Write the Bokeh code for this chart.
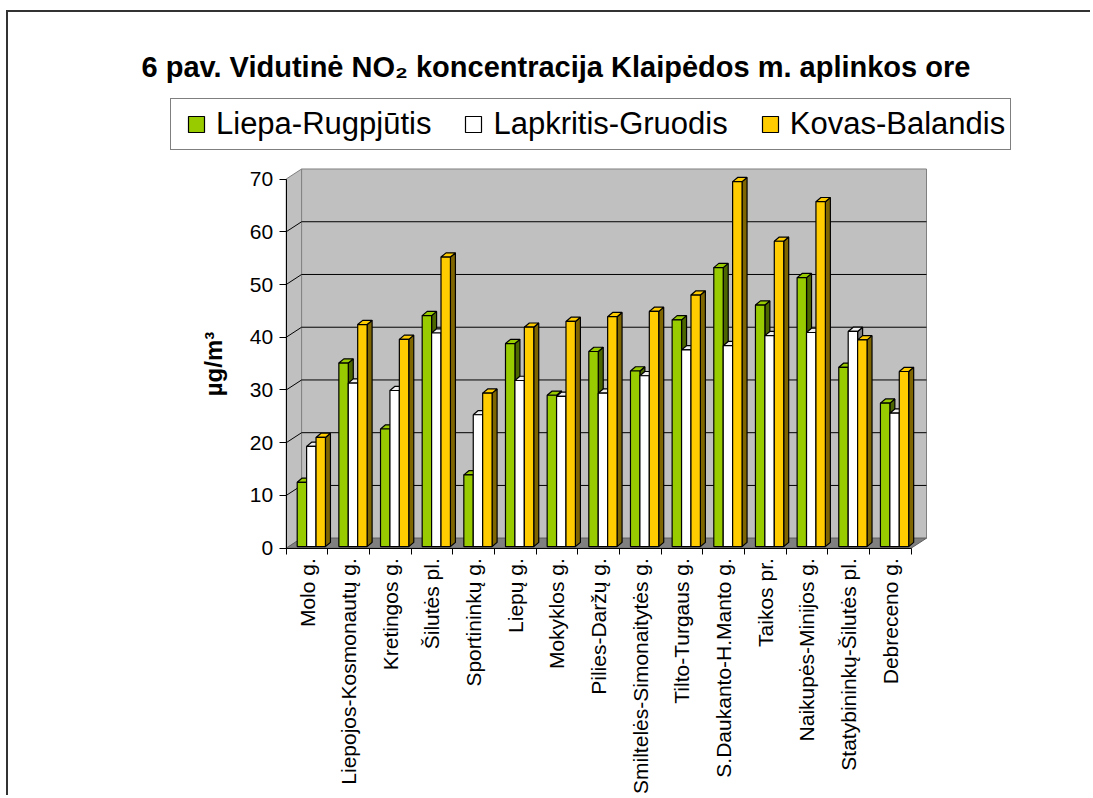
import math
import numpy as np
from bokeh.plotting import figure
from bokeh.models import Range1d, FixedTicker, Legend, LegendItem, Label, LinearAxis
from bokeh.embed import file_html
from bokeh.resources import INLINE

# ---------------- data ----------------
categories = [
    "Molo g.", "Liepojos-Kosmonautų g.", "Kretingos g.", "Šilutės pl.",
    "Sportininkų g.", "Liepų g.", "Mokyklos g.", "Pilies-Daržų g.",
    "Smiltelės-Simonaitytės g.", "Tilto-Turgaus g.", "S.Daukanto-H.Manto g.",
    "Taikos pr.", "Naikupės-Minijos g.", "Statybininkų-Šilutės pl.", "Debreceno g.",
]
series_names = ["Liepa-Rugpjūtis", "Lapkritis-Gruodis", "Kovas-Balandis"]
liepa_rugpjutis = [12.2, 34.8, 22.3, 43.8, 13.6, 38.5, 28.7, 37.0, 33.3, 43.0, 52.9, 45.8, 51.0, 34.0, 27.2]
lapkritis_gruodis = [19.0, 31.0, 29.6, 40.5, 25.0, 31.5, 28.5, 29.1, 32.4, 37.3, 38.1, 40.0, 40.6, 40.8, 25.3]
kovas_balandis = [20.7, 42.1, 39.3, 54.9, 29.1, 41.6, 42.7, 43.6, 44.6, 47.7, 69.2, 57.9, 65.4, 39.2, 33.2]
y_ticks = [0, 10, 20, 30, 40, 50, 60, 70]
title_text = "6 pav. Vidutinė NO₂ koncentracija Klaipėdos m. aplinkos ore"
y_label = "µg/m³"

# ---------------- styles / layout ----------------
FONT = "Liberation Sans"
front_colors = ["#99CC00", "#FFFFFF", "#FFCC00"]
side_colors = ["#4C6600", "#808080", "#7F6600"]
top_colors = ["#99CC00", "#F0F0F0", "#FFCC00"]
WALL = "#C0C0C0"
FLOOR = "#808080"
BORDER = "2px solid #333333"
DX, DY = 0.37, 1.9          # depth of the 3D box (data units)
BAR_W = 0.226
GROUP_START = -0.236
SX, SY = 0.12, 0.8          # depth of bars
BASE = 0.3

W, H = 1084, 785
CANVAS_LEFT, CANVAS_TOP = 8, 12      # page position of the canvas
AXIS_X_PX, AXIS_Y_PX = 285.7, 547.7  # page position of the axes' corner
PX_PER_CAT, PX_PER_UNIT = 41.66, 5.274

n = len(categories)
xpos = np.arange(n, dtype=float)
ymax = y_ticks[-1]
x0 = -0.5
x1 = n - 0.5

x_start = x0 - (AXIS_X_PX - CANVAS_LEFT) / PX_PER_CAT
x_end = x_start + W / PX_PER_CAT
y_start = -(CANVAS_TOP + H - AXIS_Y_PX) / PX_PER_UNIT
y_end = y_start + H / PX_PER_UNIT

p = figure(
    width=W, height=H,
    x_range=Range1d(x_start, x_end), y_range=Range1d(y_start, y_end),
    output_backend="svg", toolbar_location=None,
    x_axis_location=None, y_axis_location=None, min_border=0,
    background_fill_color="white", border_fill_color="white", title=None,
)
p.margin = (10, 0, 0, 6)
p.styles = {"border-top": BORDER, "border-left": BORDER}
p.outline_line_color = None
p.grid.visible = False

# ---------------- 3D walls ----------------
p.patch([x0, x0 + DX, x0 + DX, x0], [0, DY, ymax + DY, ymax],
        fill_color=WALL, line_color="#808080", line_width=1)
p.quad(left=[x0 + DX], right=[x1 + DX], bottom=[DY], top=[ymax + DY],
       fill_color=WALL, line_color="#808080", line_width=1)
p.patch([x0, x1, x1 + DX, x0 + DX], [0, 0, DY, DY],
        fill_color=FLOOR, line_color="#606060", line_width=1)

grid_vals = np.array(y_ticks[1:-1], dtype=float)
p.segment(x0=[x0 + DX] * len(grid_vals), y0=grid_vals + DY,
          x1=[x1 + DX] * len(grid_vals), y1=grid_vals + DY,
          line_color="black", line_width=1)
p.segment(x0=[x0] * len(grid_vals), y0=grid_vals,
          x1=[x0 + DX] * len(grid_vals), y1=grid_vals + DY,
          line_color="black", line_width=1)

# ---------------- 3D bars ----------------
legend_marks = []
for k, vals in enumerate([liepa_rugpjutis, lapkritis_gruodis, kovas_balandis]):
    v = np.array(vals, dtype=float)
    left = xpos + GROUP_START + k * BAR_W
    right = left + BAR_W
    bot = np.full(n, BASE)
    top = v + BASE
    side_xs = [[r, r + SX, r + SX, r] for r in right]
    side_ys = [[b, b + SY, t + SY, t] for b, t in zip(bot, top)]
    top_xs = [[l, r, r + SX, l + SX] for l, r in zip(left, right)]
    top_ys = [[t, t, t + SY, t + SY] for t in top]
    p.patches(side_xs, side_ys, fill_color=side_colors[k], line_color="black", line_width=1.2)
    p.patches(top_xs, top_ys, fill_color=top_colors[k], line_color="black", line_width=1.2)
    p.quad(left=left, right=right, bottom=bot, top=top,
           fill_color=front_colors[k], line_color="black", line_width=1.2)
    # zero-size square markers on the bar tops: they only give the legend its square keys
    mk = p.scatter(x=(left + right) / 2, y=top, size=0, marker="square",
                   fill_color=front_colors[k], line_color="black", line_width=1.2)
    legend_marks.append(mk)

# ---------------- axes (drawn at the 3D box's front corner) ----------------
xa = LinearAxis(fixed_location=0)
xa.ticker = FixedTicker(ticks=list(xpos), minor_ticks=list(np.append(xpos - 0.5, xpos[-1] + 0.5)))
xa.major_label_overrides = {int(i): c for i, c in zip(xpos, categories)}
xa.bounds = (x0, x1)
xa.axis_line_color = "black"
xa.axis_line_width = 1
xa.major_tick_line_color = None
xa.major_tick_out = 6
xa.major_tick_in = 0
xa.minor_tick_line_color = "black"
xa.minor_tick_out = 6
xa.minor_tick_in = 0
xa.major_label_orientation = math.pi / 2
xa.major_label_text_font = FONT
xa.major_label_text_font_size = "21px"
xa.major_label_text_color = "black"
xa.major_label_standoff = 4
p.add_layout(xa, "below")

ya = LinearAxis(fixed_location=x0)
ya.ticker = FixedTicker(ticks=y_ticks)
ya.bounds = (0, ymax)
ya.axis_line_color = "black"
ya.major_tick_line_color = "black"
ya.major_tick_out = 7
ya.major_tick_in = 0
ya.minor_tick_line_color = None
ya.major_label_text_font = FONT
ya.major_label_text_font_size = "21px"
ya.major_label_text_color = "black"
ya.major_label_standoff = 6
ya.axis_label = y_label
ya.axis_label_text_font = FONT
ya.axis_label_text_font_size = "24px"
ya.axis_label_text_font_style = "bold"
ya.axis_label_text_color = "black"
ya.axis_label_standoff = 20
p.add_layout(ya, "left")

# ---------------- title ----------------
p.add_layout(Label(x=141 - CANVAS_LEFT, y=CANVAS_TOP + H - 66, x_units="screen", y_units="screen",
                   text=title_text, text_font=FONT, text_font_size="29px",
                   text_font_style="bold", text_align="left", text_baseline="alphabetic",
                   text_color="black"))

# ---------------- legend ----------------
legend = Legend(
    items=[LegendItem(label=nm, renderers=[mk]) for nm, mk in zip(series_names, legend_marks)],
    orientation="horizontal", location=(170 - CANVAS_LEFT, CANVAS_TOP + H - 150),
    label_text_font=FONT, label_text_font_size="31px", label_text_color="black",
    glyph_width=40, glyph_height=40, label_standoff=0, spacing=22, padding=5, margin=0,
    border_line_color="black", border_line_width=1,
    background_fill_color="white", background_fill_alpha=1.0,
)
p.add_layout(legend)

open("out.html", "w").write(file_html(p, INLINE))
